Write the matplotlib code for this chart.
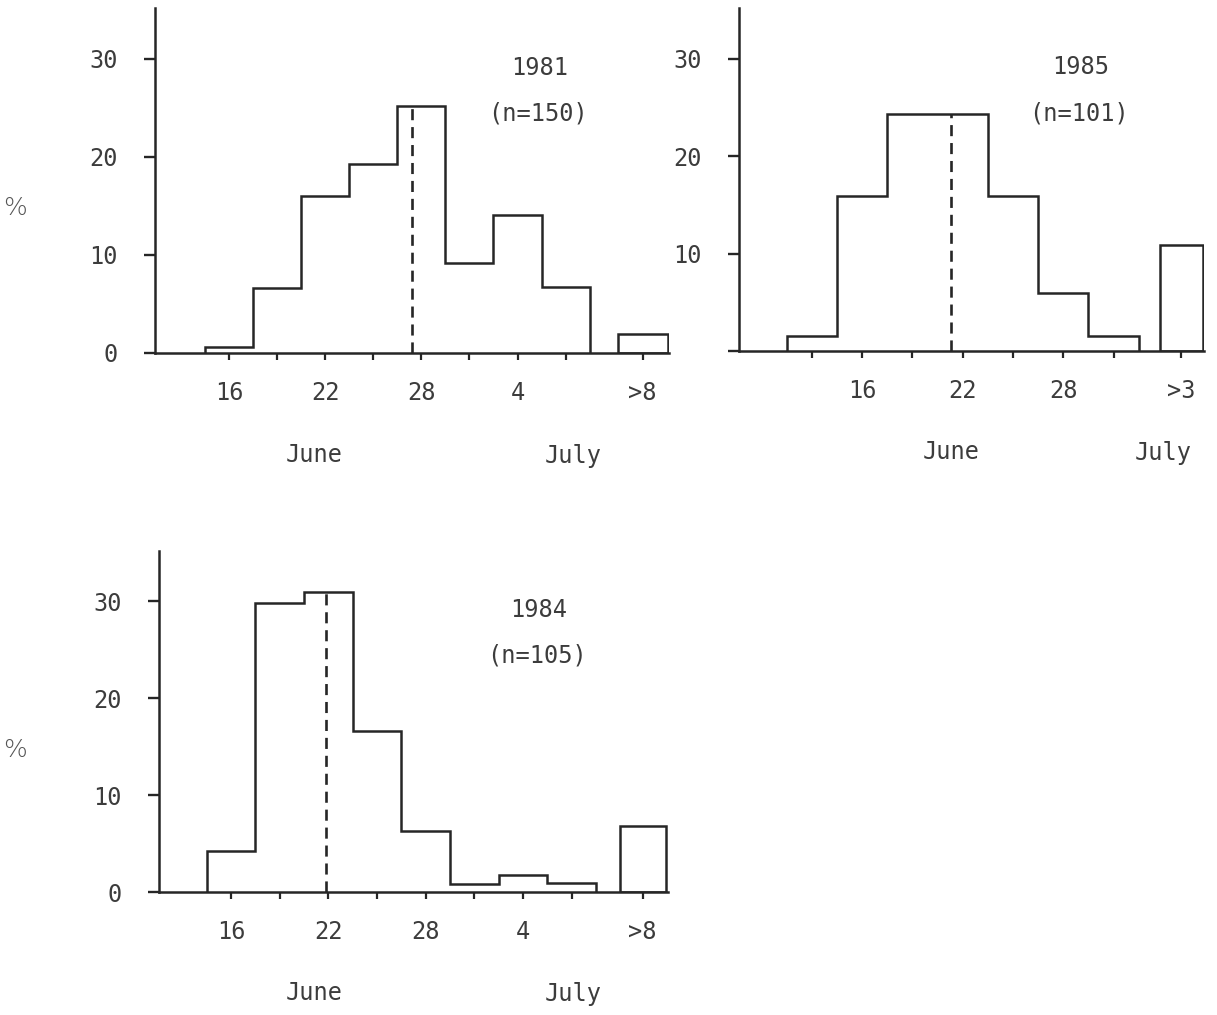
import numpy as np
import matplotlib
matplotlib.use('Agg')
import matplotlib.pyplot as plt

plt.rcParams['font.family'] = ['DejaVu Sans Mono']
plt.rcParams['font.size'] = 17

# Percent of arrivals per 3-day bin (bins centred on the listed days)
pct_1981 = [0.6, 6.6, 16.0, 19.3, 25.2, 9.2, 14.1, 6.7]
late_1981 = 1.9
labels_1981 = ['16', '', '22', '', '28', '', '4', '', '>8']
median_1981 = 3.8   # in bin units from 16 June

pct_1985 = [1.5, 15.9, 24.3, 24.3, 15.9, 6.0, 1.5]
late_1985 = 10.9
labels_1985 = ['', '16', '', '22', '', '28', '', '>3']
median_1985 = 2.77  # in bin units from 13 June

pct_1984 = [4.2, 29.8, 31.0, 16.6, 6.3, 0.8, 1.8, 0.9]
late_1984 = 6.8
labels_1984 = ['16', '', '22', '', '28', '', '4', '', '>8']
median_1984 = 1.96  # in bin units from 16 June

W, H = 1217, 1015
INK = '#262626'
TXT = '#3c3c3c'
fig = plt.figure(figsize=(W / 100, H / 100), dpi=100)


def rect(l, r, top, bottom):
    return [l / W, 1 - bottom / H, (r - l) / W, (bottom - top) / H]


def panel(box, xlim, pct, late, late_pos, late_w, labels, median, year, n,
          text_x, ylabels, june_x, july_x):
    ax = fig.add_axes(rect(*box))
    edges = np.arange(len(pct) + 1) - 0.5
    ax.stairs(pct, edges, baseline=0, color=INK, lw=1.8)
    ax.bar(late_pos, late, width=late_w, fill=False, edgecolor=INK, lw=1.8)
    k = int(np.clip(np.round(median), 0, len(pct) - 1))
    ax.vlines(median, 0, pct[k], colors=INK, lw=1.9, linestyles=(0, (4.2, 2.6)))

    ax.set_xlim(*xlim)
    ax.set_ylim(0, 35.2)
    for s in ['top', 'right']:
        ax.spines[s].set_visible(False)
    for s in ['left', 'bottom']:
        ax.spines[s].set_linewidth(1.8)
        ax.spines[s].set_color(INK)
    ticks = list(np.arange(len(pct))) + [late_pos]
    ax.set_xticks(ticks, labels=labels)
    ax.set_yticks([0, 10, 20, 30], labels=ylabels)
    ax.tick_params(axis='x', direction='out', length=5, width=1.6,
                   pad=15, colors=INK, labelcolor=TXT)
    ax.tick_params(axis='y', direction='out', length=8, width=1.7,
                   pad=19, colors=INK, labelcolor=TXT)

    ax.text(text_x, 29.1, year, ha='center', va='center', color=TXT)
    ax.text(text_x - 0.04, 24.4, '(n=%d)' % n, ha='center', va='center',
            color=TXT)
    ax.text(june_x, -10.4, 'June', ha='center', va='center',
            color=TXT, clip_on=False)
    ax.text(july_x, -10.5, 'July', ha='center', va='center',
            color=TXT, clip_on=False)
    return ax


panel((155, 669, 8, 353), (-1.54, 9.15), pct_1981, late_1981, 8.6, 1.04,
      labels_1981, median_1981, '1981', 150, 6.46,
      ['0', '10', '20', '30'], 1.77, 7.15)
panel((739, 1204, 8, 351), (-1.45, 7.8), pct_1985, late_1985, 7.35, 0.87,
      labels_1985, median_1985, '1985', 101, 5.35,
      ['', '10', '20', '30'], 2.77, 6.99)
panel((159, 668, 551, 892), (-1.48, 8.98), pct_1984, late_1984, 8.46, 0.94,
      labels_1984, median_1984, '1984', 105, 6.33,
      ['0', '10', '20', '30'], 1.71, 7.04)

fig.text(15 / W, 1 - 208 / H, '%', fontsize=18, ha='center', va='center',
         color='#555555', family='DejaVu Sans', fontweight='light')
fig.text(15 / W, 1 - 750 / H, '%', fontsize=18, ha='center', va='center',
         color='#555555', family='DejaVu Sans', fontweight='light')

fig.savefig('out.png', dpi=100, facecolor='white')
